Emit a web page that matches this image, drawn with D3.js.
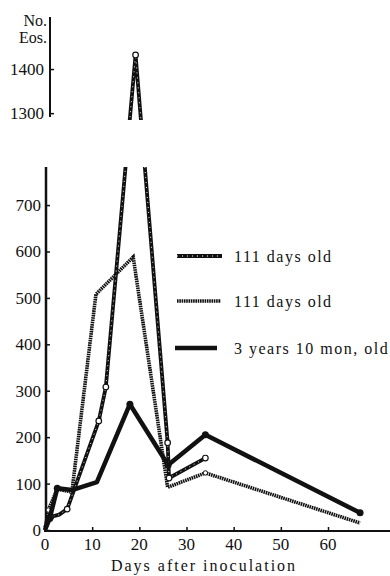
<!DOCTYPE html>
<html><head><meta charset="utf-8">
<script src="https://cdn.jsdelivr.net/npm/d3@7"></script>
<style>
html,body{margin:0;padding:0;background:#fff;}
svg text{font-family:"Liberation Serif","Times New Roman",Tinos,"DejaVu Serif",serif;fill:#111;}
</style></head>
<body><svg id="c" width="390" height="576" font-family="Liberation Serif, Times New Roman, serif"></svg>
<script>
// ---- data ----
const seriesNames = ["111 days old", "111 days old", "3 years 10 mon, old"];
const daysA = [0, 0.5, 1.2, 3, 4.7, 11.4, 12.9, 19.2, 26, 26.3, 34];
const valsA = [5, 18, 28, 33, 45, 235, 308, 1432, 188, 112, 155];
const daysB = [0, 0.7, 2.6, 5.7, 10.8, 18.7, 26, 34, 66.8];
const valsB = [0, 43, 88, 82, 508, 588, 92, 123, 15];
const daysC = [0, 1, 2.6, 5.7, 11, 18, 26.1, 34, 66.8];
const valsC = [0, 25, 90, 86, 103, 271, 140, 205, 37];
const markA = [false, false, true, false, true, true, true, true, true, true, true];
const markB = [false, true, true, true, false, false, false, true, false];
const markC = [false, true, true, false, false, true, true, true, true];
const xTicks = [0, 10, 20, 30, 40, 50, 60];
const yTicksLow = [0, 100, 200, 300, 400, 500, 600, 700];
const yTicksHigh = [1300, 1400];
const xTitle = "Days after inoculation";
const yTitle = ["No.", "Eos."];

// ---- scales ----
const svg = d3.select("#c");
const FONT = "Liberation Serif, Times New Roman, Tinos, serif";
const x = d3.scaleLinear().domain([0, 60]).range([45, 328]);
// broken axis: lower panel 0-782, gap, upper panel 1289-1518
const y = d3.scaleLinear().domain([0, 782, 1289, 1518]).range([530, 167, 118, 17]);

const ink = "#111";
const DOT = "1.6 0.7";

// clip paths for the two panels
const defs = svg.append("defs");
defs.append("clipPath").attr("id", "up").append("rect").attr("x", 0).attr("y", 0).attr("width", 390).attr("height", 120);
defs.append("clipPath").attr("id", "low").append("rect").attr("x", 0).attr("y", 167).attr("width", 390).attr("height", 409);

// ---- axes ----
const xAxis = d3.axisTop(x).tickValues(xTicks).tickSize(4).tickFormat("");
const gx = svg.append("g").attr("transform", "translate(0,531)").call(xAxis);
gx.select(".domain").remove();
gx.selectAll(".tick line").attr("stroke", ink).attr("stroke-width", 1.5);
svg.append("line").attr("x1", 44).attr("x2", 390).attr("y1", 531).attr("y2", 531).attr("stroke", ink).attr("stroke-width", 2);
svg.append("g").selectAll("text").data(xTicks).join("text")
  .attr("font-family", FONT)
  .attr("x", d => x(d)).attr("y", 550).attr("text-anchor", "middle")
  .attr("font-size", 17).text(d => d);
svg.append("text").attr("x", 204).attr("y", 571).attr("text-anchor", "middle")
  .attr("font-family", FONT)
  .attr("font-size", 16).attr("letter-spacing", "2px").text(xTitle);

// lower y axis
const gyl = svg.append("g").attr("transform", "translate(46,0)")
  .call(d3.axisRight(y).tickValues(yTicksLow).tickSize(4).tickFormat(""));
gyl.select(".domain").remove();
gyl.selectAll(".tick line").attr("stroke", ink).attr("stroke-width", 1.5);
svg.append("line").attr("x1", 46).attr("x2", 46).attr("y1", 167).attr("y2", 531).attr("stroke", ink).attr("stroke-width", 2.5);
svg.append("g").selectAll("text").data(yTicksLow).join("text")
  .attr("font-family", FONT)
  .attr("x", 41).attr("y", d => y(d) + 6).attr("text-anchor", "end")
  .attr("font-size", 17).text(d => d);

// upper y axis
const gyu = svg.append("g").attr("transform", "translate(50,0)")
  .call(d3.axisRight(y).tickValues(yTicksHigh).tickSize(4).tickFormat(""));
gyu.select(".domain").remove();
gyu.selectAll(".tick line").attr("stroke", ink).attr("stroke-width", 1.5);
svg.append("line").attr("x1", 50).attr("x2", 50).attr("y1", 17).attr("y2", 117).attr("stroke", ink).attr("stroke-width", 2);
svg.append("g").selectAll("text").data(yTicksHigh).join("text")
  .attr("font-family", FONT)
  .attr("x", 44).attr("y", d => y(d) + 6).attr("text-anchor", "end")
  .attr("font-size", 17).text(d => d);
svg.append("g").selectAll("text").data(yTitle).join("text")
  .attr("font-family", FONT)
  .attr("x", 47).attr("y", (d, i) => 26 + i * 17).attr("text-anchor", "end")
  .attr("font-size", 16).text(d => d);

// ---- series ----
const line = d3.line().x(d => x(d[0])).y(d => y(d[1]));
const ptsA = daysA.map((d, i) => [d, valsA[i], markA[i]]);
const ptsB = daysB.map((d, i) => [d, valsB[i], markB[i]]);
const ptsC = daysC.map((d, i) => [d, valsC[i], markC[i]]);

function drawSeries(g) {
  // dotted series (B)
  g.append("path").datum(ptsB).attr("d", line).attr("fill", "none")
    .attr("stroke", ink).attr("stroke-width", 3.6).attr("stroke-dasharray", DOT);
  g.append("g").selectAll("circle").data(ptsB.filter(p => p[2])).join("circle")
    .attr("cx", d => x(d[0])).attr("cy", d => y(d[1])).attr("r", 2.2)
    .attr("fill", "#fff").attr("stroke", ink).attr("stroke-width", 1);
  // hatched series (A)
  g.append("path").datum(ptsA).attr("d", line).attr("fill", "none")
    .attr("stroke", ink).attr("stroke-width", 3.8);
  g.append("path").datum(ptsA).attr("d", line).attr("fill", "none")
    .attr("stroke", "#fff").attr("stroke-width", 0.9).attr("stroke-dasharray", "1 4");
  g.append("g").selectAll("circle").data(ptsA.filter(p => p[2])).join("circle")
    .attr("cx", d => x(d[0])).attr("cy", d => y(d[1])).attr("r", 2.8)
    .attr("fill", "#fff").attr("stroke", ink).attr("stroke-width", 1.2);
  // solid series (C)
  g.append("path").datum(ptsC).attr("d", line).attr("fill", "none")
    .attr("stroke", ink).attr("stroke-width", 4.5).attr("stroke-linejoin", "round");
  g.append("g").selectAll("circle").data(ptsC.filter(p => p[2])).join("circle")
    .attr("cx", d => x(d[0])).attr("cy", d => y(d[1])).attr("r", 3.5).attr("fill", ink);
}
drawSeries(svg.append("g").attr("clip-path", "url(#up)"));
drawSeries(svg.append("g").attr("clip-path", "url(#low)"));

// ---- legend ----
const legY = [256, 301, 348];
const lg = svg.append("g");
lg.append("line").attr("x1", 177).attr("x2", 222).attr("y1", legY[0]).attr("y2", legY[0])
  .attr("stroke", ink).attr("stroke-width", 3.8);
lg.append("line").attr("x1", 177).attr("x2", 222).attr("y1", legY[0]).attr("y2", legY[0])
  .attr("stroke", "#fff").attr("stroke-width", 1).attr("stroke-dasharray", "1 4");
lg.append("line").attr("x1", 177).attr("x2", 221).attr("y1", legY[1]).attr("y2", legY[1])
  .attr("stroke", ink).attr("stroke-width", 3.6).attr("stroke-dasharray", DOT);
lg.append("line").attr("x1", 175).attr("x2", 217).attr("y1", legY[2]).attr("y2", legY[2])
  .attr("stroke", ink).attr("stroke-width", 4.5);
lg.selectAll("text").data(seriesNames).join("text")
  .attr("font-family", FONT)
  .attr("x", 234).attr("y", (d, i) => legY[i] + 6)
  .attr("font-size", 16).attr("letter-spacing", "1.5px").text(d => d);
</script>
</body></html>
